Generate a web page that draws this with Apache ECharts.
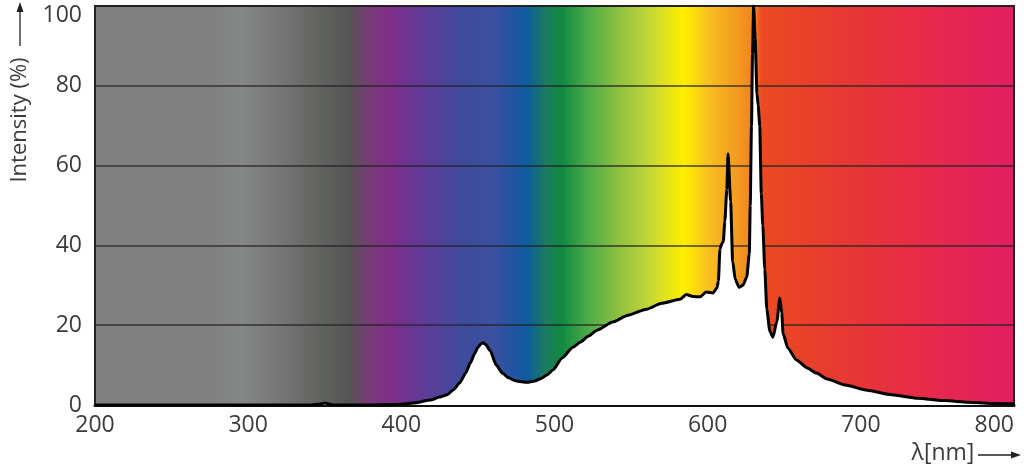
<!DOCTYPE html>
<html>
<head>
<meta charset="utf-8">
<script src="https://cdn.jsdelivr.net/npm/echarts@6/dist/echarts.min.js"></script>
<style>
html,body{margin:0;padding:0;background:#fff;}
#chart{width:1024px;height:469px;}
</style>
</head>
<body>
<div id="chart"></div>
<script>
// Wavelength (nm)
const wavelengths = [200, 340, 348, 350, 352, 356, 380, 400, 408, 419, 425, 430, 434, 438, 442, 445, 448, 450, 452, 453.5, 455, 458, 462, 466, 470, 475, 482, 487, 491, 495, 499, 505, 512, 517, 522, 528, 538, 548, 560, 570, 582, 586, 590.5, 595, 599, 603.5, 606, 607, 608, 609.3, 610.2, 611.2, 612.5, 613.3, 615, 616.3, 618, 620.5, 623, 625.5, 627.2, 627.8, 628.6, 629.3, 630, 631, 632.2, 633, 634, 635, 636, 637.3, 638.6, 640.6, 642.6, 645.2, 647.1, 648.4, 649.2, 652.3, 658, 665, 671, 678, 690, 704, 720, 737, 755, 770, 785, 800];
// Relative intensity (%)
const intensities = [0, 0, 0.3, 0.5, 0.3, 0, 0, 0.2, 0.5, 1.25, 2, 2.6, 3.8, 5.5, 8, 10.5, 13, 14.5, 15.3, 15.6, 15.2, 13.6, 10, 8, 6.8, 6, 5.7, 6, 6.6, 7.5, 8.8, 11.8, 14.5, 15.8, 17.2, 18.8, 20.8, 22.5, 24, 25.5, 26.5, 27.7, 27.2, 27.1, 28.3, 28.1, 29.3, 31, 39, 40.5, 41, 46, 54, 63, 51, 36, 31.5, 29.5, 30, 32, 38, 50, 70, 88, 100, 92, 78, 75, 70, 53, 45, 34, 24, 18.5, 17, 21, 26.8, 23, 18, 14.3, 11.3, 9.3, 8, 6.5, 5, 3.7, 2.6, 1.7, 1.1, 0.7, 0.4, 0.3];
const xTicks = [200, 300, 400, 500, 600, 700, 800];
const yTicks = [0, 20, 40, 60, 80, 100];

// Spectrum background colour stops (wavelength, colour)
const bgWavelengths = [200, 275, 295, 322, 353, 366, 380, 392, 415, 439, 462, 474, 482, 494, 505, 521, 541, 560, 584, 600, 619, 631, 634.5, 666, 705, 744, 800];
const bgColors = ['#808080', '#808080', '#858786', '#767676', '#5d5f5c', '#555555', '#7a3a78', '#7f2e86', '#5e3b98', '#3f4a9c', '#3a50a0', '#1f56a0', '#0e5ca0', '#1b7a60', '#128a40', '#4aaa48', '#8cc040', '#c0d43a', '#fff000', '#f8c020', '#f39a20', '#ef8020', '#ec4a22', '#e8402a', '#e8333a', '#e62a4a', '#e01e62'];

const xMin = 200, xMax = 800;
const seriesData = wavelengths.map((w, i) => [w, intensities[i]]);
const colorStops = bgWavelengths.map((w, i) => ({ offset: (w - xMin) / (xMax - xMin), color: bgColors[i] }));

const textColor = '#3b3b3b';
const fontFamily = "'Open Sans', 'Noto Sans', sans-serif";

const chart = echarts.init(document.getElementById('chart'));
chart.setOption({
  animation: false,
  grid: {
    left: 95, right: 10, top: 6, bottom: 64,
    show: true,
    backgroundColor: { type: 'linear', x: 0, y: 0, x2: 1, y2: 0, colorStops: colorStops },
    borderColor: '#222',
    borderWidth: 2
  },
  xAxis: {
    type: 'value', min: xMin, max: xMax, interval: 100,
    axisLine: { show: true, lineStyle: { color: '#111', width: 3 } },
    axisTick: { show: false },
    splitLine: { show: false },
    axisLabel: {
      color: textColor, fontSize: 23, fontFamily: fontFamily, margin: 9,
      alignMaxLabel: 'right',
      customValues: xTicks
    }
  },
  yAxis: {
    type: 'value', min: 0, max: 100, interval: 20,
    axisLine: { show: false },
    axisTick: { show: false },
    splitLine: { show: true, lineStyle: { color: 'rgba(35,35,35,0.85)', width: 1.5 } },
    axisLabel: {
      color: textColor, fontSize: 23, fontFamily: fontFamily, margin: 13,
      formatter: function (v) { return v === 100 ? '{top|100}' : String(v); },
      rich: { top: { color: textColor, fontSize: 23, fontFamily: fontFamily, padding: [18, 0, 0, 0] } }
    }
  },
  series: [{
    type: 'line',
    data: seriesData,
    showSymbol: false,
    smooth: 0.2,
    smoothMonotone: 'x',
    lineStyle: { color: '#000', width: 3 },
    areaStyle: { color: '#ffffff', opacity: 1 },
    z: 3
  }],
  graphic: [
    { type: 'text', x: 20, y: 120, rotation: Math.PI / 2, style: { text: 'Intensity (%)', fill: textColor, font: "22px 'Open Sans', sans-serif", align: 'center', verticalAlign: 'middle' } },
    { type: 'line', shape: { x1: 20, y1: 46, x2: 20, y2: 10 }, style: { stroke: '#222', lineWidth: 1.3 } },
    { type: 'polygon', shape: { points: [[20, 2], [16.5, 12], [23.5, 12]] }, style: { fill: '#222' } },
    { type: 'text', x: 943, y: 453, style: { text: 'λ[nm]', fill: textColor, font: "23px 'Open Sans', sans-serif", align: 'center', verticalAlign: 'middle' } },
    { type: 'line', shape: { x1: 978, y1: 455, x2: 1012, y2: 455 }, style: { stroke: '#222', lineWidth: 1.3 } },
    { type: 'polygon', shape: { points: [[1021, 455], [1011, 451.5], [1011, 458.5]] }, style: { fill: '#222' } }
  ]
});
</script>
</body>
</html>
